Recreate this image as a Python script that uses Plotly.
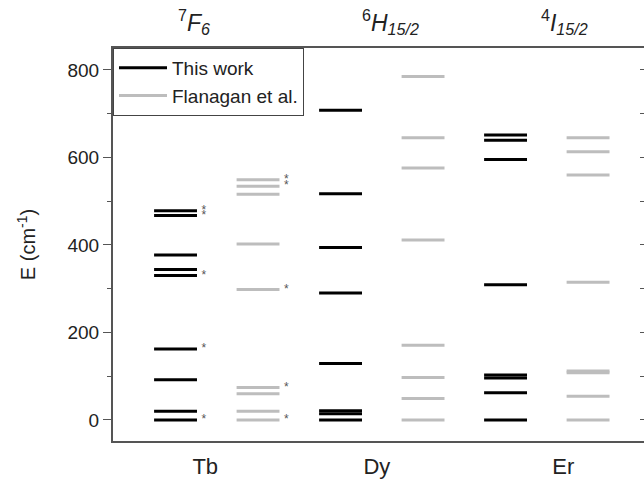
import plotly.graph_objects as go

# ---------------- data ----------------
elements = ["Tb", "Dy", "Er"]
terms = ["<sup>7</sup><i>F<sub>6</sub></i>",
         "<sup>6</sup><i>H<sub>15/2</sub></i>",
         "<sup>4</sup><i>I<sub>15/2</sub></i>"]

this_work = {
    "Tb": [0, 20, 92, 162, 330, 344, 377, 467, 478],
    "Dy": [0, 14, 21, 129, 290, 394, 517, 708],
    "Er": [0, 62, 96, 103, 309, 595, 639, 651],
}
flanagan = {
    "Tb": [0, 20, 60, 74, 298, 402, 516, 534, 549],
    "Dy": [0, 49, 97, 171, 411, 576, 645, 785],
    "Er": [0, 54, 108, 112, 315, 560, 613, 645],
}
# levels marked with an asterisk
stars_this = {"Tb": [0, 162, 330, 467, 478], "Dy": [], "Er": []}
stars_flan = {"Tb": [0, 74, 298, 534, 549], "Dy": [], "Er": []}

y_ticks = [0, 200, 400, 600, 800]

# ---------------- layout helpers ----------------
HALF = 0.13          # half-width of a level bar (x units)
FLAN_OFF = 0.5       # offset of literature column
STAR_OFF = 0.172     # asterisk offset from bar centre
LABEL_OFF = [0.18, 0.22, 0.35]
TITLE_OFF = [0.11, 0.30, 0.36]

FONT = "Liberation Sans, Arial, sans-serif"
BLACK = "#000000"
GRAY = "#bdbdbd"


def segments(levels, centre):
    xs, ys = [], []
    for v in levels:
        xs += [centre - HALF, centre + HALF, None]
        ys += [v, v, None]
    return xs, ys


fig = go.Figure()

for name, data, col, off in [("This work", this_work, BLACK, 0.0),
                             ("Flanagan et al.", flanagan, GRAY, FLAN_OFF)]:
    xs, ys = [], []
    for i, el in enumerate(elements):
        sx, sy = segments(data[el], i + 1 + off)
        xs += sx
        ys += sy
    fig.add_trace(go.Scatter(x=xs, y=ys, mode="lines", name=name,
                             line=dict(color=col, width=3),
                             hoverinfo="skip"))

# asterisks
sx, sy = [], []
for i, el in enumerate(elements):
    for v in stars_this[el]:
        sx.append(i + 1 + STAR_OFF)
        sy.append(v)
    for v in stars_flan[el]:
        sx.append(i + 1 + FLAN_OFF + STAR_OFF)
        sy.append(v)
fig.add_trace(go.Scatter(x=sx, y=sy, mode="text", text=["*"] * len(sx),
                         textposition="middle center",
                         textfont=dict(family=FONT, size=12, color="#555555"),
                         showlegend=False, hoverinfo="skip"))

# empty trace for right-side tick axis
fig.add_trace(go.Scatter(x=[None], y=[None], yaxis="y2", showlegend=False,
                         hoverinfo="skip"))

# term-symbol titles
for i, t in enumerate(terms):
    fig.add_annotation(x=i + 1 + TITLE_OFF[i], y=1.066, xref="x", yref="paper",
                       text=t, showarrow=False, xanchor="center", yanchor="middle",
                       font=dict(family=FONT, size=23, color="#222222"))

YR = [-48, 850]

fig.update_layout(
    width=644, height=484,
    margin=dict(l=113, r=0, t=48, b=43),
    paper_bgcolor="white", plot_bgcolor="white",
    font=dict(family=FONT, color="#222222"),
    showlegend=True,
    legend=dict(x=0, y=1, xanchor="left", yanchor="top",
                bgcolor="white", bordercolor="#444444", borderwidth=1,
                font=dict(family=FONT, size=19, color="#222222"),
                itemwidth=48, tracegroupgap=0),
    xaxis=dict(range=[0.621, 3.839], showgrid=False, zeroline=False,
               showline=True, linecolor="#555555", linewidth=2, mirror=True,
               ticks="", tickvals=[i + 1 + LABEL_OFF[i] for i in range(3)],
               ticktext=elements, ticklabelstandoff=5,
               tickfont=dict(family=FONT, size=22, color="#222222")),
    yaxis=dict(range=YR, showgrid=False, zeroline=False,
               showline=True, linecolor="#555555", linewidth=2,
               ticks="outside", ticklen=8, tickwidth=1, tickcolor="#555555",
               tickvals=y_ticks,
               minor=dict(ticks="outside", ticklen=4, dtick=100,
                          tickcolor="#555555", tickwidth=1),
               tickfont=dict(family=FONT, size=19, color="#222222"),
               title=dict(text="E (cm<sup>-1</sup>)", standoff=26,
                          font=dict(family=FONT, size=20, color="#222222"))),
    yaxis2=dict(range=YR, overlaying="y", side="right", showgrid=False,
                zeroline=False, showline=False, showticklabels=False,
                ticks="inside", ticklen=4, tickwidth=1, tickcolor="#555555",
                dtick=100, tick0=0),
)

fig.write_html("out.html")
